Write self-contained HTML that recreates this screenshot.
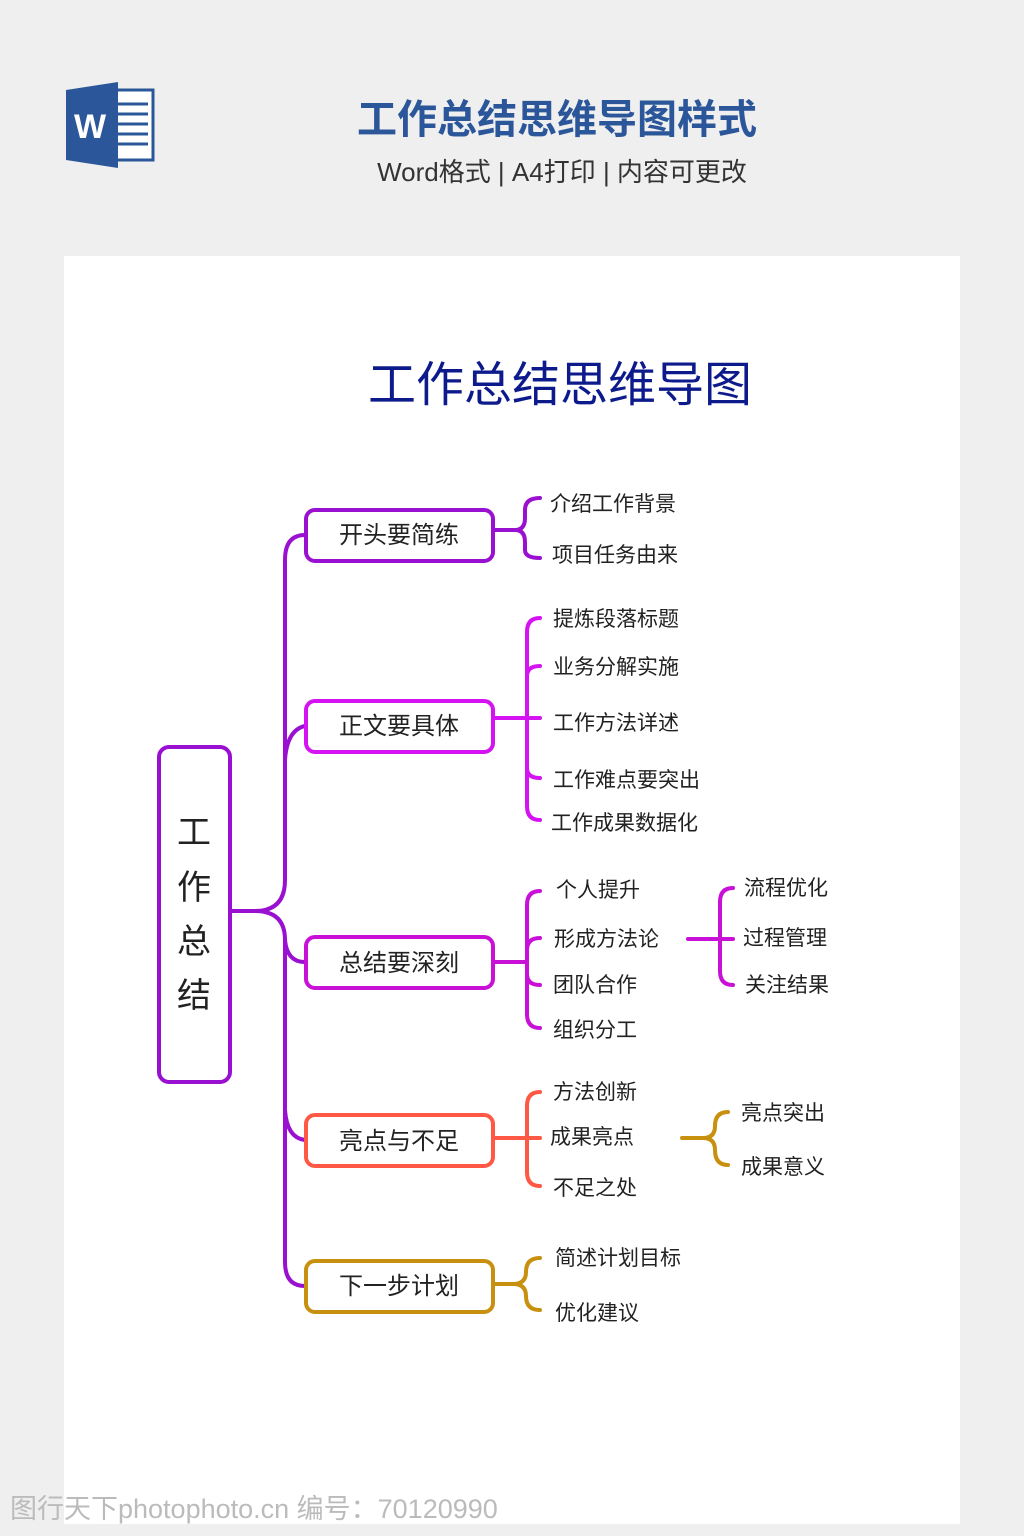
<!DOCTYPE html>
<html><head><meta charset="utf-8"><style>
body{margin:0;width:1024px;height:1536px;background:#efefef;overflow:hidden;font-family:"Liberation Sans","Noto Sans CJK SC",sans-serif;}
svg{position:absolute;left:0;top:0}
</style></head><body>
<svg width="1024" height="1536" viewBox="0 0 1024 1536" xmlns="http://www.w3.org/2000/svg" font-family="Liberation Sans, Noto Sans CJK SC, sans-serif">
<rect x="108" y="90" width="45" height="70" fill="#fff" stroke="#2b579a" stroke-width="3"/>
<g stroke="#2b579a" stroke-width="3"><line x1="118" y1="104" x2="148" y2="104"/><line x1="118" y1="114" x2="148" y2="114"/><line x1="118" y1="124" x2="148" y2="124"/><line x1="118" y1="134" x2="148" y2="134"/><line x1="118" y1="144" x2="148" y2="144"/></g>
<polygon points="66,90 118,82 118,168 66,160" fill="#2b579a"/>
<text x="90" y="138" font-size="34" font-weight="bold" fill="#fff" text-anchor="middle">W</text>
<text x="557" y="133" font-size="40" font-weight="bold" fill="#2b579a" text-anchor="middle">工作总结思维导图样式</text>
<text x="562" y="181" font-size="26" fill="#333" text-anchor="middle">Word格式 | A4打印 | 内容可更改</text>
<rect x="64" y="256" width="896" height="1268" fill="#fff"/>
<text x="560" y="401" font-size="48" fill="#0d1a8c" text-anchor="middle">工作总结思维导图</text>
<g fill="none" stroke-width="4" stroke-linecap="round">
<path d="M230,911 L255,911 Q285,911 285,880 L285,560 Q285,535 305,535" stroke="#9a10d0"/>
<path d="M255,911 Q285,911 285,940 L285,1262 Q285,1286 305,1286" stroke="#9a10d0"/>
<path d="M285,760 Q287,730 305,726" stroke="#9a10d0"/>
<path d="M285,940 Q287,962 305,962" stroke="#9a10d0"/>
<path d="M285,1110 Q287,1138 305,1140" stroke="#9a10d0"/>
<rect x="159" y="747" width="71" height="335" rx="10" stroke="#9a10d0"/>
<rect x="306" y="510" width="187" height="51" rx="9" stroke="#9a10d0"/>
<rect x="306" y="701" width="187" height="51" rx="9" stroke="#d513f2"/>
<rect x="306" y="937" width="187" height="51" rx="9" stroke="#c810d6"/>
<rect x="306" y="1115" width="187" height="51" rx="9" stroke="#ff5845"/>
<rect x="306" y="1261" width="187" height="51" rx="9" stroke="#c8900f"/>
<g stroke="#9a10d0"><path d="M493,530 L515,530 Q525,530 525,518 L525,510 Q525,498 540,498"/><path d="M515,530 Q525,530 525,542 L525,550 Q525,558 540,558"/></g>
<g stroke="#d513f2"><path d="M493,718 L540,718"/><path d="M540,618 Q527,618 527,632 L527,806 Q527,820 540,820"/><path d="M527,676 Q527,666 540,666"/><path d="M527,768 Q527,778 540,778"/></g>
<g stroke="#c810d6"><path d="M493,962 L527,962"/><path d="M540,891 Q527,891 527,905 L527,1014 Q527,1028 540,1028"/><path d="M527,950 Q527,938 540,938"/><path d="M527,974 Q527,985 540,985"/>
<path d="M688,939 L733,939"/><path d="M733,888 Q720,888 720,902 L720,971 Q720,985 733,985"/></g>
<g stroke="#ff5845"><path d="M493,1138 L540,1138"/><path d="M540,1092 Q527,1092 527,1106 L527,1172 Q527,1186 540,1186"/></g>
<g stroke="#c8900f"><path d="M682,1138 L703,1138 Q715,1138 715,1126 Q715,1112 728,1112"/><path d="M703,1138 Q715,1138 715,1150 Q715,1165 728,1165"/>
<path d="M493,1284 L513,1284 Q526,1284 526,1272 Q526,1258 540,1258"/><path d="M513,1284 Q526,1284 526,1296 Q526,1310 540,1310"/></g>
</g>
<g font-size="34" fill="#222" text-anchor="middle"><text x="194" y="844">工</text><text x="194" y="899">作</text><text x="194" y="953">总</text><text x="194" y="1007">结</text></g>
<g font-size="24" fill="#222" text-anchor="middle"><text x="399" y="543">开头要简练</text><text x="399" y="734">正文要具体</text><text x="399" y="971">总结要深刻</text><text x="399" y="1149">亮点与不足</text><text x="399" y="1294">下一步计划</text></g>
<g font-size="21" fill="#222">
<text x="550" y="511">介绍工作背景</text><text x="552" y="562">项目任务由来</text>
<text x="553" y="626">提炼段落标题</text><text x="553" y="674">业务分解实施</text><text x="553" y="730">工作方法详述</text><text x="553" y="787">工作难点要突出</text><text x="551" y="830">工作成果数据化</text>
<text x="556" y="897">个人提升</text><text x="554" y="946">形成方法论</text><text x="553" y="992">团队合作</text><text x="553" y="1037">组织分工</text>
<text x="744" y="895">流程优化</text><text x="743" y="945">过程管理</text><text x="745" y="992">关注结果</text>
<text x="553" y="1099">方法创新</text><text x="550" y="1144">成果亮点</text><text x="553" y="1195">不足之处</text>
<text x="741" y="1120">亮点突出</text><text x="741" y="1174">成果意义</text>
<text x="555" y="1265">简述计划目标</text><text x="555" y="1320">优化建议</text></g>
<text x="10" y="1518" font-size="27" fill="#bbb">图行天下photophoto.cn 编号：70120990</text>
</svg>
</body></html>
